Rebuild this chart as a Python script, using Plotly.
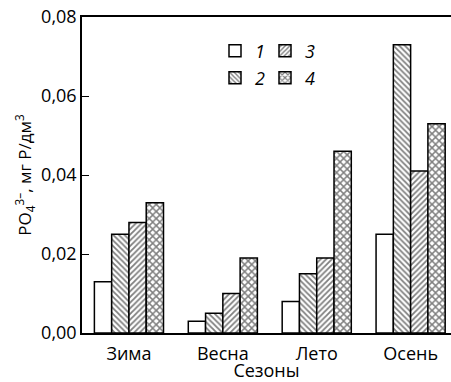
import plotly.graph_objects as go

seasons = ["Зима", "Весна", "Лето", "Осень"]
series_names = ["1", "2", "3", "4"]
s1 = [0.013, 0.003, 0.008, 0.025]
s2 = [0.025, 0.005, 0.015, 0.073]
s3 = [0.028, 0.010, 0.019, 0.041]
s4 = [0.033, 0.019, 0.046, 0.053]
y_ticks = [0.0, 0.02, 0.04, 0.06, 0.08]

values = [s1, s2, s3, s4]
patterns = ["", "\\", "/", "x"]
pat_sizes = [5, 4, 4, 5]
pat_solid = [0.4, 0.45, 0.45, 0.5]
legend_ids = ["legend", "legend3", "legend2", "legend4"]

fig = go.Figure()
for name, vals, pat, psz, psol, lg in zip(series_names, values, patterns, pat_sizes, pat_solid, legend_ids):
    fig.add_trace(go.Bar(
        x=seasons, y=vals, name=f"<i>{name}</i>",
        marker=dict(color="white",
                    line=dict(color="black", width=1.5),
                    pattern=dict(shape=pat, fgcolor="black", bgcolor="white",
                                 size=psz, solidity=psol, fillmode="overlay")),
        legend=lg, showlegend=True,
    ))

W, H = 451, 382
L, R, T, B = 82, 0, 17, 49
pw = W - L - R
ph = H - T - B

def lx(px):
    return (px - L) / pw

def ly(py):
    return (H - B - py) / ph

leg_common = dict(font=dict(family="Open Sans", size=18, color="black"),
                  bgcolor="rgba(0,0,0,0)", xanchor="left", yanchor="middle",
                  visible=True)

fig.update_layout(
    width=W, height=H,
    margin=dict(l=L, r=R, t=T, b=B),
    paper_bgcolor="white", plot_bgcolor="white",
    separators=", ",
    showlegend=True,
    font=dict(family="Open Sans", size=18, color="black"),
    barmode="group", bargap=0.264, bargroupgap=0,
    legend=dict(x=lx(215), y=ly(51), **leg_common),
    legend2=dict(x=lx(265), y=ly(51), **leg_common),
    legend3=dict(x=lx(215), y=ly(78), **leg_common),
    legend4=dict(x=lx(265), y=ly(78), **leg_common),
    xaxis=dict(range=[-0.5, 3.43], showline=True, linecolor="black", linewidth=2,
               mirror=True, ticks="", showgrid=False, automargin=False,
               ticklabelstandoff=3,
               title=dict(text="Сезоны", standoff=0, font=dict(size=18))),
    yaxis=dict(range=[0, 0.08], tickvals=y_ticks, tickformat=".2f",
               showline=True, linecolor="black", linewidth=1.5,
               ticks="inside", ticklen=7, tickwidth=1, tickcolor="black",
               showgrid=False, zeroline=False, automargin=False,
               title=dict(text="PO<sub>4</sub><sup>3–</sup>, мг Р/дм<sup>3</sup>",
                          standoff=5, font=dict(size=17))),
)

fig.write_html("out.html", config={"displayModeBar": False},
               post_script="document.body.style.margin='0';")
